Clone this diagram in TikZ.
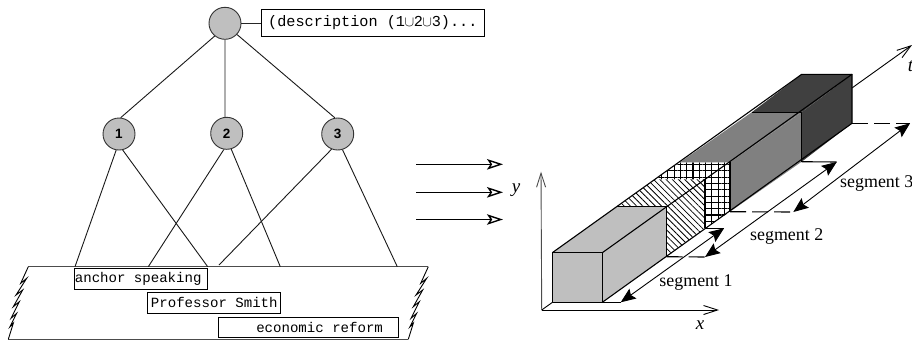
\documentclass[tikz,border=0pt]{standalone}
\usepackage{fontspec}
\setmainfont{Liberation Serif}
\newfontfamily\monof{Liberation Mono}
\newfontfamily\sansf{Liberation Sans}
\usetikzlibrary{arrows.meta,patterns.meta}
\definecolor{lg}{HTML}{BFBFBF}
\definecolor{mg}{HTML}{808080}
\definecolor{dg}{HTML}{404040}
\tikzset{
  treenode/.style={circle,draw=black!80,fill=lg,line width=.9pt,inner sep=0pt,minimum size=32pt,font=\fontsize{13.5}{14}\sansf\bfseries},
  edgeline/.style={line width=.9pt,black!90},
  labelbox/.style={draw=black,line width=1pt,inner sep=0pt,font=\fontsize{14.07}{16}\monof},
  openarrow/.style={line width=1.1pt,-{Stealth[open,length=16pt,width=10.5pt,inset=3.5pt,line width=1.4pt]}},
  axisarrow/.style={line width=.9pt,-{Straight Barb[length=14pt,width=9pt,line width=.9pt]}},
  segarrow/.style={line width=.9pt,{Stealth[length=15pt,width=12pt,inset=2.5pt]}-{Stealth[length=15pt,width=12pt,inset=2.5pt]}},
  edgebox/.style={line width=1.1pt,black,line join=round},
  dashline/.style={line width=1.1pt,dash pattern=on 16pt off 6pt},
  serlabel/.style={inner sep=0pt,font=\fontsize{17.9}{20}\selectfont},
  serital/.style={inner sep=0pt,font=\fontsize{19}{20}\selectfont\itshape},
  planeedge/.style={line width=.9pt,black,line join=miter}
}
\begin{document}
\begin{tikzpicture}[x=1pt,y=-1pt]
\useasboundingbox (0,0) rectangle (912,341);
% plane
\coordinate (pl) at (28.3,266.7);
\coordinate (pr) at (428.3,266.7);
\coordinate (ql) at (8.3,339.3);
\coordinate (qr) at (408.3,339.3);
\draw[line width=1.2pt,black!70] (pl) -- (pr);
\draw[line width=1.2pt,black!70] (ql) -- (qr);
\foreach \o in {0,400}{
  \draw[planeedge] ([xshift=\o]pl) -- +(-7.6,16.6) -- +(-1.6,11.6) -- +(-12.3,28.3) -- +(-5.6,23.3) -- +(-15,40) -- +(-9,35) -- +(-17.3,51.6) -- +(-11.6,46.6) -- +(-18.3,60) -- +(-15,56.6) -- +(-20,72.6);
}
% tree
\node[treenode] (root) at (225,23.3) {};
\node[treenode] (n1) at (119,134) {1};
\node[treenode] (n2) at (226.7,133.3) {2};
\node[treenode] (n3) at (337.7,134) {3};
\node[labelbox,minimum width=223pt,minimum height=27pt,font=\fontsize{15.2}{16}\monof] (desc) at (372.8,22.5) {(description (1\kern-.5pt$\cup$\kern-.3pt2\kern-.5pt$\cup$\kern-.3pt3)...};
\node[labelbox,minimum width=133pt,minimum height=21pt] (la) at (141.2,278.8) {\kern-6pt anchor speaking};
\node[labelbox,minimum width=133.3pt,minimum height=21pt] (lb) at (214.3,302.8) {Professor Smith};
\node[labelbox,minimum width=180.7pt,minimum height=20pt] (lc) at (308.6,327) {\hspace*{22pt}economic reform};
\draw[line width=1.3pt,black!85] (root.east) -- (root.east-|desc.west);
\draw[edgeline] (root.231) -- (n1.84);
\draw[edgeline] (root.270) -- (n2.96);
\draw[edgeline] (root.317) -- (n3.100);
\coordinate (e1) at (75,266.7);
\coordinate (e2) at (207.7,266.7);
\coordinate (e3) at (148.3,266.7);
\coordinate (e4) at (280.3,266.7);
\coordinate (e5) at (219,265);
\coordinate (e6) at (397.3,266.7);
\draw[edgeline] (n1.260) -- (e1);
\draw[edgeline] (n1.283) -- (e2);
\draw[edgeline] (n2.260) -- (e3);
\draw[edgeline] (n2.286) -- (e4);
\draw[edgeline] (n3.248) -- (e5);
\draw[edgeline] (n3.287) -- (e6);
% three arrows
\foreach \n/\yy in {a/164.3,b/192.3,c/219.5}{
  \coordinate (s\n) at (416,\yy);
  \coordinate (t\n) at (503,\yy);
  \draw[openarrow] (s\n) -- (t\n);
}
\node[serital] (ylab) at (516,190) {y};
% axes
\coordinate (o) at (541.7,310);
\coordinate (xa) at (719,310);
\coordinate (ya) at (541,171.7);
\coordinate (ta) at (912,45);
\draw[axisarrow,black!70] (o) -- (ya);
\draw[axisarrow] (o) -- (xa);
\draw[axisarrow] (o) -- (ta);
\node[serital] (xlab) at (700,325) {x};
\node[serital] (tlab) at (910.5,66) {t};
% box coordinates
\coordinate (f1) at (552.3,252.7);
\coordinate (f2) at (602.3,252.7);
\coordinate (f3) at (602.3,302.3);
\coordinate (f4) at (552.3,302.3);
\coordinate (a1) at (666.7,206.7);
\coordinate (a2) at (666.7,256.7);
\coordinate (a0) at (616.7,206.7);
\coordinate (b1) at (705,179.3);
\coordinate (b2) at (705,228.3);
\coordinate (b0) at (655,179.3);
\coordinate (c1) at (730,162.3);
\coordinate (c2) at (730,211.7);
\coordinate (c0) at (680,162.3);
\coordinate (d1) at (801.7,112.3);
\coordinate (d2) at (801.7,161.7);
\coordinate (d0) at (751.7,112.3);
\coordinate (g1) at (852,74.3);
\coordinate (g2) at (852,123.3);
\coordinate (g0) at (801.7,74.3);
% faces
\fill[white] (f1) -- (g0) -- (g1) -- (g2) -- (f3) -- (f4) -- cycle;
\fill[lg] (f1) -- (f2) -- (f3) -- (f4) -- cycle;
\fill[lg] (f1) -- (a0) -- (a1) -- (f2) -- cycle;
\fill[lg] (f2) -- (a1) -- (a2) -- (f3) -- cycle;
\fill[pattern={Lines[angle=-45,distance=4.4pt,line width=.8pt]}] (a0) -- (b0) -- (b1) -- (a1) -- cycle;
\fill[pattern={Lines[angle=-45,distance=4.4pt,line width=.8pt]}] (a1) -- (b1) -- (b2) -- (a2) -- cycle;
\fill[pattern={Hatch[angle=0,distance=6.3pt,line width=1.1pt]}] (b0) -- (c0) -- (c1) -- (b1) -- cycle;
\fill[pattern={Hatch[angle=0,distance=6.3pt,line width=1.1pt]}] (b1) -- (c1) -- (c2) -- (b2) -- cycle;
\fill[mg] (c0) -- (d0) -- (d1) -- (c1) -- cycle;
\fill[mg] (c1) -- (d1) -- (d2) -- (c2) -- cycle;
\fill[dg] (d0) -- (g0) -- (g1) -- (d1) -- cycle;
\fill[dg] (d1) -- (g1) -- (g2) -- (d2) -- cycle;
% edges
\draw[edgebox] (f1) -- (f2) -- (f3) -- (f4) -- cycle;
\draw[edgebox] (f1) -- (g0) -- (g1) -- (g2) -- (f3);
\draw[edgebox] (f2) -- (g1);
\draw[edgebox] (a0) -- (a1) -- (a2);
\draw[edgebox] (b1) -- (b2);
\draw[edgebox] (c1) -- (c2);
\draw[edgebox] (d0) -- (d1) -- (d2);
% dimension lines
\coordinate (u1) at (620.7,302.3);
\coordinate (u2) at (724,228.3);
\coordinate (v1) at (705,257);
\coordinate (v2) at (836.7,162);
\coordinate (w1) at (793.3,212);
\coordinate (w2) at (910,123.3);
\draw[edgebox] (f3) -- (u1);
\draw[edgebox] (b2) -- (u2);
\draw[dashline] (a2) -- (v1);
\draw[edgebox] (d2) -- (v2);
\draw[dashline] (c2) -- (w1);
\draw[dashline] (g2) -- (w2);
\draw[segarrow] (u1) -- (u2);
\draw[segarrow] (v1) -- (v2);
\draw[segarrow] (w1) -- (w2);
\node[serlabel] (s1) at (696,283) {segment 1};
\node[serlabel] (s2) at (786.7,236) {segment 2};
\node[serlabel,anchor=west] (s3) at (840,183) {segment 3};
\end{tikzpicture}
\end{document}
